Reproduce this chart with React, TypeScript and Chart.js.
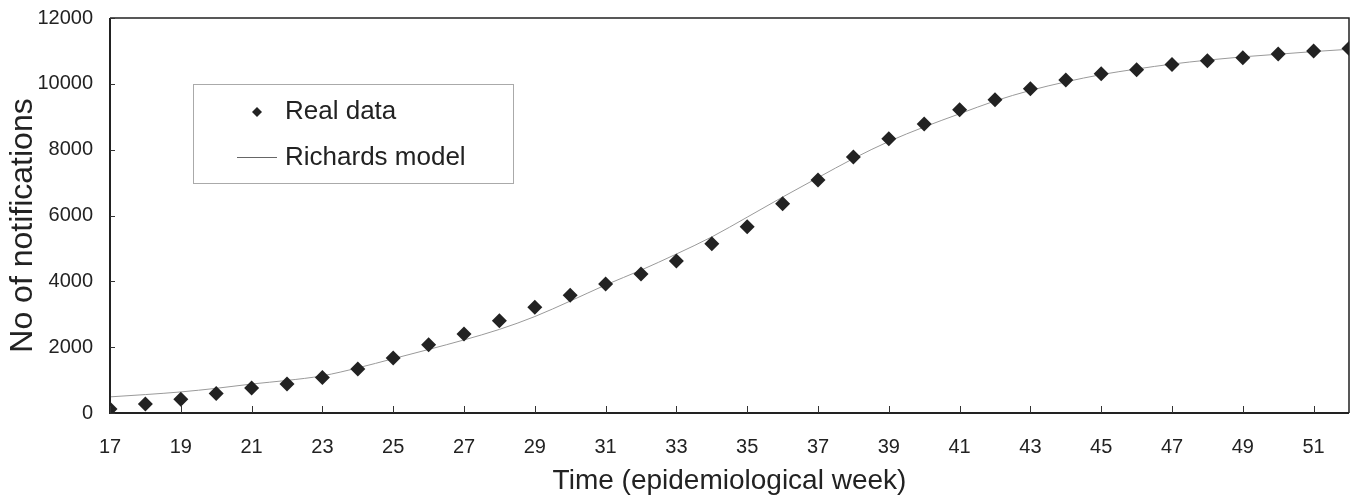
import React, { useEffect, useRef } from "react";
import { Chart, registerables } from "chart.js";

Chart.register(...registerables);

const weeks = [17, 18, 19, 20, 21, 22, 23, 24, 25, 26, 27, 28, 29, 30, 31, 32, 33, 34, 35, 36, 37, 38, 39, 40, 41, 42, 43, 44, 45, 46, 47, 48, 49, 50, 51, 52];
const realData = [120, 270, 420, 590, 760, 880, 1080, 1340, 1670, 2070, 2400, 2800, 3210, 3580, 3920, 4220, 4620, 5140, 5660, 6360, 7080, 7780, 8330, 8780, 9210, 9520, 9850, 10120, 10310, 10430, 10590, 10700, 10790, 10910, 11000, 11070];
const richardsModel = [490, 560, 640, 750, 880, 990, 1130, 1370, 1650, 1930, 2220, 2540, 2930, 3400, 3890, 4340, 4830, 5350, 5950, 6560, 7150, 7730, 8250, 8690, 9090, 9480, 9800, 10060, 10280, 10450, 10600, 10720, 10820, 10900, 10980, 11050];
const xTickLabels = [17, 19, 21, 23, 25, 27, 29, 31, 33, 35, 37, 39, 41, 43, 45, 47, 49, 51];
const yTickValues = [0, 2000, 4000, 6000, 8000, 10000, 12000];
const legendLabels = ["Real data", "Richards model"];
const xTitle = "Time (epidemiological week)";
const yTitle = "No of notifications";

const FONT = "'Liberation Sans', Arial, sans-serif";

const framePlugin = {
  id: "frame",
  afterDatasetsDraw(chart: any) {
    const { ctx, chartArea: a, scales } = chart;
    ctx.save();
    ctx.strokeStyle = "#222";
    ctx.lineWidth = 1.5;
    ctx.beginPath();
    ctx.moveTo(a.left, a.top);
    ctx.lineTo(a.right, a.top);
    ctx.lineTo(a.right, a.bottom);
    ctx.stroke();
    ctx.lineWidth = 2;
    ctx.beginPath();
    ctx.moveTo(a.left, a.top);
    ctx.lineTo(a.left, a.bottom);
    ctx.lineTo(a.right, a.bottom);
    ctx.stroke();
    ctx.lineWidth = 1;
    ctx.strokeStyle = "#333";
    ctx.beginPath();
    for (const v of xTickLabels) {
      const px = Math.round(scales.x.getPixelForValue(v)) + 0.5;
      ctx.moveTo(px, a.bottom);
      ctx.lineTo(px, a.bottom - 7);
    }
    for (const v of yTickValues) {
      const py = Math.round(scales.y.getPixelForValue(v)) + 0.5;
      ctx.moveTo(a.left, py);
      ctx.lineTo(a.left + 5, py);
    }
    ctx.stroke();
    ctx.restore();
  },
  afterDraw(chart: any) {
    const { ctx, chartArea: a } = chart;
    ctx.save();
    ctx.fillStyle = "#222";
    ctx.font = `32px ${FONT}`;
    ctx.textAlign = "center";
    ctx.textBaseline = "middle";
    ctx.translate(23, (a.top + a.bottom) / 2 + 10);
    ctx.rotate(-Math.PI / 2);
    ctx.fillText(yTitle, 0, 0);
    ctx.restore();

    ctx.save();
    ctx.strokeStyle = "#aaa";
    ctx.lineWidth = 1;
    ctx.strokeRect(193.5, 84.5, 320, 99);
    ctx.fillStyle = "#222";
    ctx.beginPath();
    ctx.moveTo(257, 107);
    ctx.lineTo(262, 112);
    ctx.lineTo(257, 117);
    ctx.lineTo(252, 112);
    ctx.closePath();
    ctx.fill();
    ctx.strokeStyle = "#666";
    ctx.beginPath();
    ctx.moveTo(237, 157.5);
    ctx.lineTo(277, 157.5);
    ctx.stroke();
    ctx.fillStyle = "#222";
    ctx.font = `26px ${FONT}`;
    ctx.textBaseline = "middle";
    ctx.textAlign = "left";
    ctx.fillText(legendLabels[0], 285, 112);
    ctx.fillText(legendLabels[1], 285, 158);
    ctx.restore();
  },
};

export default function App() {
  const ref = useRef<HTMLCanvasElement | null>(null);
  useEffect(() => {
    if (!ref.current) return;
    const chart = new Chart(ref.current, {
      type: "scatter",
      data: {
        datasets: [
          {
            type: "scatter",
            label: legendLabels[0],
            data: weeks.map((w, i) => ({ x: w, y: realData[i] })),
            pointStyle: "rectRot",
            pointRadius: 7.5,
            backgroundColor: "#222",
            borderColor: "#222",
            borderWidth: 0,
          },
          {
            type: "line",
            label: legendLabels[1],
            data: weeks.map((w, i) => ({ x: w, y: richardsModel[i] })),
            borderColor: "#9a9a9a",
            borderWidth: 1,
            pointRadius: 0,
            fill: false,
            cubicInterpolationMode: "monotone",
          } as any,
        ],
      },
      options: {
        animation: false,
        responsive: false,
        events: [],
        layout: { padding: { top: 18, right: 10, left: 0, bottom: 0 } },
        plugins: { legend: { display: false }, tooltip: { enabled: false } },
        scales: {
          x: {
            type: "linear",
            min: 17,
            max: 52,
            grid: { display: false, drawTicks: false },
            border: { display: false },
            afterBuildTicks: (s: any) => {
              s.ticks = xTickLabels.map((v) => ({ value: v }));
            },
            afterFit: (s: any) => {
              s.height = 85;
              s.paddingLeft = 0;
              s.paddingRight = 0;
            },
            ticks: {
              color: "#222",
              font: { family: FONT, size: 20 },
              padding: 22,
              maxRotation: 0,
              autoSkip: false,
              callback: (v: any) => String(v),
            },
            title: {
              display: true,
              text: xTitle,
              color: "#222",
              font: { family: FONT, size: 28 },
              padding: { top: 0, bottom: 0 },
            },
          },
          y: {
            type: "linear",
            min: 0,
            max: 12000,
            grid: { display: false, drawTicks: false },
            border: { display: false },
            afterBuildTicks: (s: any) => {
              s.ticks = yTickValues.map((v) => ({ value: v }));
            },
            afterFit: (s: any) => {
              s.width = 110;
              s.paddingTop = 0;
              s.paddingBottom = 0;
            },
            ticks: {
              color: "#222",
              font: { family: FONT, size: 20 },
              padding: 17,
              callback: (v: any) => String(v),
            },
            title: { display: false, text: yTitle },
          },
        },
      },
      plugins: [framePlugin],
    });
    return () => chart.destroy();
  }, []);
  return (
    <div style={{ position: "absolute", left: 0, top: 0, width: 1359, height: 498, background: "#fff" }}>
      <canvas ref={ref} width={1359} height={498} style={{ display: "block", width: 1359, height: 498 }} />
    </div>
  );
}
